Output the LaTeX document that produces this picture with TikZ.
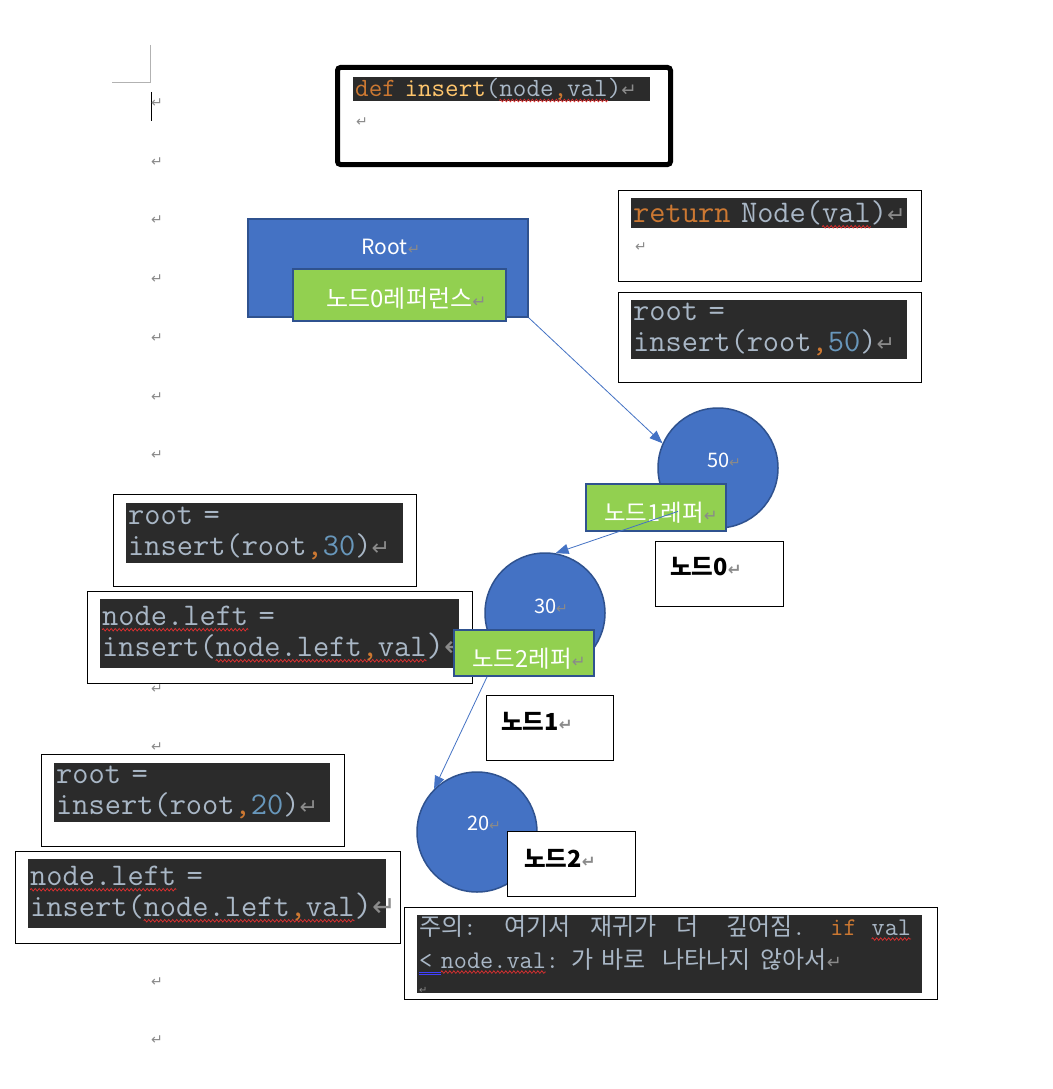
\documentclass[tikz,border=0pt]{standalone}
\usepackage{fontspec}
\usepackage{graphicx}
\usetikzlibrary{arrows.meta,positioning,calc,decorations.pathmorphing}
\newfontfamily\krfont{Noto Sans CJK KR}
\newfontfamily\symfont{DejaVu Sans}
\definecolor{codebg}{HTML}{2B2B2B}
\definecolor{codefg}{HTML}{A9B7C6}
\definecolor{kwor}{HTML}{CC7832}
\definecolor{fnyel}{HTML}{FFC66D}
\definecolor{numblue}{HTML}{6897BB}
\definecolor{shpblue}{HTML}{4472C4}
\definecolor{shpedge}{HTML}{2F528F}
\definecolor{refgreen}{HTML}{92D050}
\definecolor{pmgray}{HTML}{8A8A8A}
\definecolor{wavered}{HTML}{E03030}
\newsavebox\wavebox
\newlength\wavelen
\newcommand\redwave[1]{\sbox\wavebox{#1}\setlength\wavelen{\wd\wavebox}%
  \leavevmode\rlap{\tikz[baseline=0pt,overlay,x=1pt,y=1pt]
    \draw[wavered,line width=0.7pt,decorate,decoration={zigzag,amplitude=1.3pt,segment length=4pt}]
      (0,-4) -- (\wavelen,-4);}\usebox\wavebox}
\newcommand\blueuu[1]{\sbox\wavebox{#1}\setlength\wavelen{\wd\wavebox}%
  \leavevmode\rlap{\tikz[baseline=0pt,overlay,x=1pt,y=1pt]{
    \draw[blue!75,line width=0.8pt] (0,-4) -- (\wavelen,-4) (0,-6.5) -- (\wavelen,-6.5);}}\usebox\wavebox}
\newcommand\pmark{\textcolor{pmgray}{\scalebox{0.7}{\symfont ↵}}}
\newcommand\kr[1]{{\krfont\fontsize{24}{33}\selectfont #1}}
\newcommand\kw[1]{\textcolor{kwor}{#1}}
\newcommand\cnum[1]{\textcolor{numblue}{#1}}

\begin{document}
\begin{tikzpicture}[x=1pt,y=-1pt,
        frame/.style={draw=black,line width=1.2pt,fill=white,anchor=north west,inner sep=0pt},
        code/.style={fill=codebg,text=codefg,anchor=north west,align=left,
                     inner xsep=2pt,inner ysep=0pt,font=\ttfamily\fontsize{31.5}{31}\selectfont},
        blob/.style={circle,fill=shpblue,draw=shpedge,line width=1.5pt,minimum size=120pt,inner sep=0pt},
        refbox/.style={fill=refgreen,draw=shpedge,line width=1.8pt,anchor=north west,inner sep=0pt},
        wtext/.style={text=white,inner sep=0pt,font=\krfont\fontsize{20}{24}\selectfont},
        tagtext/.style={anchor=west,inner sep=0pt,font=\krfont\bfseries\fontsize{23.5}{24}\selectfont},
        pm/.style={inner sep=0pt,font=\fontsize{20}{24}\selectfont},
        ptr/.style={draw=shpblue,line width=0.8pt,-{Triangle[length=13pt,width=10pt]}}]
      \fill[white] (0,0) rectangle (1052,1089);
      \useasboundingbox (0,0) rectangle (1052,1089);
      % page margin
      \draw[gray!60] (150,45) -- (150,82) -- (112,82);
      \draw[black,line width=1pt] (151,92) -- (151,121);
      \foreach \y [count=\i] in {103,162,220,279,338,397,455,689,747,982,1040}
        \node[pm] (pm\i) at (157,\y) {\pmark};
      % function header
      \node[frame,line width=5pt,rounded corners=3pt,minimum width=333pt,minimum height=97pt] (fdef) at (335,65) {};
      \node[code,font=\ttfamily\fontsize{26.3}{24}\selectfont,text width=293pt,minimum height=24pt] (cdef) at (353,77)
        {\mbox{\kw{def} \textcolor{fnyel}{insert}(\redwave{node\kw{,}val})\pmark}};
      \node[pm] (pmdef) at (362,122) {\pmark};
      % root reference
      \node[fill=shpblue,draw=shpedge,line width=1.8pt,anchor=north west,minimum width=280pt,minimum height=98pt] (root) at (247,218) {};
      \node[wtext,font=\krfont\fontsize{21}{24}\selectfont] (roottxt) at (391,247) {Root\pmark};
      \node[refbox,minimum width=213pt,minimum height=52pt] (ref0) at (292,268) {};
      \node[wtext,font=\krfont\fontsize{24}{24}\selectfont] (ref0txt) at ($(ref0.center)+(7,4)$) {노드0레퍼런스\pmark};
      % base case / first call
      \node[frame,minimum width=303pt,minimum height=91pt] (fret) at (618,190) {};
      \node[code,text width=272pt,minimum height=30pt] (cret) at (631,198) {\mbox{\kw{return} Node(\redwave{val})\pmark}};
      \node[pm] (pmret) at (641,247) {\pmark};
      \node[frame,minimum width=303pt,minimum height=90pt] (f50) at (618,292) {};
      \node[code,text width=272pt,minimum height=59pt] (c50) at (631,300) {root =\\\mbox{insert(root\kw{,}\cnum{50})\pmark}};
      % node 0
      \node[blob] (n50) at (718,468) {};
      \node[wtext] (t50) at (724,460) {50\pmark};
      \node[refbox,minimum width=140pt,minimum height=47pt] (ref1) at (585,483) {};
      \node[wtext,font=\krfont\fontsize{23.5}{24}\selectfont] (ref1txt) at ($(ref1.center)+(5,5)$) {노드1레퍼\pmark};
      \node[frame,minimum width=128pt,minimum height=65pt] (b0) at (655,541) {};
      \node[tagtext] (tag0) at (670,567) {노드0\pmark};
      % second call
      \node[frame,minimum width=303pt,minimum height=92pt] (f30) at (113,494) {};
      \node[code,text width=273pt,minimum height=60pt] (c30) at (126,503) {root =\\\mbox{insert(root\kw{,}\cnum{30})\pmark}};
      \node[frame,minimum width=385pt,minimum height=92pt] (fleft1) at (87,591) {};
      \node[code,text width=355pt,minimum height=69pt] (cleft1) at (100,599)
        {\redwave{node.left} =\\\mbox{insert(\redwave{node.left\kw{,}val}{\fontsize{34}{31}\selectfont)\scalebox{1.2}{\pmark}}}};
      % node 1
      \node[blob] (n30) at (545,613) {};
      \node[wtext] (t30) at (551,606) {30\pmark};
      \node[refbox,minimum width=140pt,minimum height=46pt] (ref2) at (453,629) {};
      \node[wtext,font=\krfont\fontsize{23.5}{24}\selectfont] (ref2txt) at ($(ref2.center)+(5,6)$) {노드2레퍼\pmark};
      \node[frame,minimum width=127pt,minimum height=65pt] (b1) at (486,695) {};
      \node[tagtext] (tag1) at (501,721) {노드1\pmark};
      % third call
      \node[frame,minimum width=303pt,minimum height=92pt] (f20) at (41,754) {};
      \node[code,text width=272pt,minimum height=59pt] (c20) at (54,763) {root =\\\mbox{insert(root\kw{,}\cnum{20})\pmark}};
      \node[frame,minimum width=385pt,minimum height=92pt] (fleft2) at (15,851) {};
      \node[code,text width=354pt,minimum height=69pt] (cleft2) at (28,859)
        {\redwave{node.left} =\\\mbox{insert(\redwave{node.left\kw{,}val}{\fontsize{34}{31}\selectfont)\scalebox{1.2}{\pmark}}}};
      % node 2
      \node[blob] (n20) at (477,832) {};
      \node[wtext] (t20) at (484,823) {20\pmark};
      \node[frame,minimum width=128pt,minimum height=65pt] (b2) at (507,831) {};
      \node[tagtext] (tag2) at (524,858) {노드2\pmark};
      % note
      \node[frame,minimum width=533pt,minimum height=92pt] (fnote) at (404,907) {};
      \node[code,font=\ttfamily\fontsize{25.5}{33}\selectfont,text width=501pt,minimum height=75pt] (cnote) at (417,915)
        {\mbox{\kr{주의}:\hspace{28pt}\kr{여기서}\hspace{20pt}\kr{재귀가}\hspace{20pt}\kr{더}\hspace{27pt}\kr{깊어짐}.\hspace{25pt}\kw{if}\hspace{15pt}\redwave{val}}\\
         \mbox{\blueuu{<~}\redwave{node.val}:\hspace{12pt}\kr{가}\hspace{8pt}\kr{바로}\hspace{17pt}\kr{나타나지}\hspace{10pt}\kr{않아서}\pmark}\\[-8pt]
         {\fontsize{14}{12}\selectfont\pmark}};
      % references
      \draw[ptr] (root.south east) -- (n50.156);
      \draw[ptr] ($(ref1.center)+(22,4)$) -- (n30.80);
      \draw[ptr] ($(ref2.south west)!0.24!(ref2.south east)$) -- (n20.135);
    \end{tikzpicture}
\end{document}
